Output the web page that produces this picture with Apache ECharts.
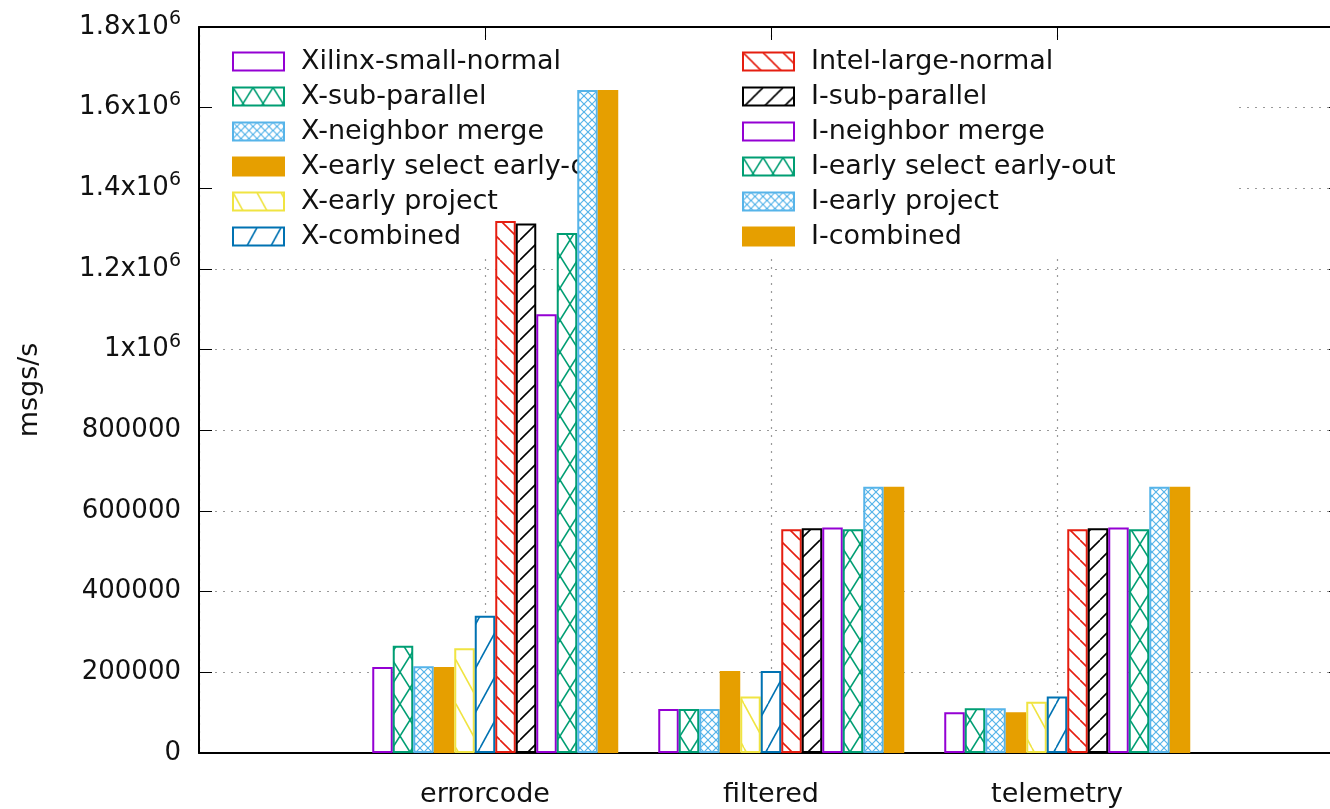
<!DOCTYPE html>
<html>
<head>
<meta charset="utf-8">
<script src="https://cdn.jsdelivr.net/npm/echarts@6/dist/echarts.min.js"></script>
<style>
  html, body { margin: 0; padding: 0; background: #fff; }
  #chart { width: 1330px; height: 809px; }
</style>
</head>
<body>
<div id="chart"></div>
<script>
const categories = ['', 'errorcode', 'filtered', 'telemetry', '']
const yTicks = [0, 200000, 400000, 600000, 800000, 1000000, 1200000, 1400000, 1600000, 1800000]

const seriesNames = [
  'Xilinx-small-normal', 'X-sub-parallel', 'X-neighbor merge', 'X-early select early-out',
  'X-early project', 'X-combined', 'Intel-large-normal', 'I-sub-parallel',
  'I-neighbor merge', 'I-early select early-out', 'I-early project', 'I-combined',
]

// values per series: errorcode, filtered, telemetry
const xilinxSmallNormal = [213000, 109000, 101000]
const xSubParallel = [266000, 109000, 111000]
const xNeighborMerge = [215000, 109000, 111000]
const xEarlySelect = [213000, 203000, 101000]
const xEarlyProject = [260000, 140000, 127000]
const xCombined = [340000, 203000, 140000]
const intelLargeNormal = [1319000, 555000, 555000]
const iSubParallel = [1313000, 557000, 557000]
const iNeighborMerge = [1088000, 559000, 559000]
const iEarlySelect = [1289000, 555000, 555000]
const iEarlyProject = [1644000, 660000, 660000]
const iCombined = [1644000, 660000, 660000]

const seriesValues = [
  xilinxSmallNormal, xSubParallel, xNeighborMerge, xEarlySelect, xEarlyProject, xCombined,
  intelLargeNormal, iSubParallel, iNeighborMerge, iEarlySelect, iEarlyProject, iCombined,
]

const purple = '#9400d3'
const green = '#009e73'
const skyblue = '#56b4e9'
const orange = '#e69f00'
const yellow = '#f0e442'
const blue = '#0072b2'
const red = '#e51e10'
const black = '#000000'

const seriesColors = [purple, green, skyblue, orange, yellow, blue, red, black, purple, green, skyblue, orange]
const seriesPatterns = ['empty', 'cross', 'fine', 'solid', 'back2', 'fwd2', 'back', 'fwd', 'empty', 'cross', 'fine', 'solid']

// hatch fill built on a small canvas tile
const makePattern = (kind, color) => {
  if (kind === 'solid') return color
  const tiles = {
    empty: [4, 4], cross: [20, 32], fine: [8, 8],
    back: [20, 20], fwd: [20, 20], back2: [24, 44], fwd2: [24, 44],
  }
  const [w, h] = tiles[kind]
  const cvs = document.createElement('canvas')
  cvs.width = w
  cvs.height = h
  const ctx = cvs.getContext('2d')
  ctx.fillStyle = '#fff'
  ctx.fillRect(0, 0, w, h)
  ctx.strokeStyle = color
  ctx.lineWidth = kind === 'fine' ? 1.2 : 1.6
  const line = (x0, y0, x1, y1) => {
    for (const dx of [-w, 0, w]) {
      ctx.beginPath()
      ctx.moveTo(x0 + dx, y0)
      ctx.lineTo(x1 + dx, y1)
      ctx.stroke()
    }
  }
  if (kind === 'back' || kind === 'back2' || kind === 'cross' || kind === 'fine') line(0, 0, w, h)
  if (kind === 'fwd' || kind === 'fwd2' || kind === 'cross' || kind === 'fine') line(w, 0, 0, h)
  return { image: cvs, repeat: 'repeat' }
}

const font = 'DejaVu Sans'

const series = [
  // empty slot so the group sits half a bar to the right of the tick
  { type: 'bar', name: '_pad', data: categories.map(() => null), barWidth: 20.5, barGap: '0%' },
]
seriesNames.forEach((name, i) => {
  series.push({
    type: 'bar',
    name,
    z: 3,
    barWidth: 20.5,
    barGap: '0%',
    data: [null, ...seriesValues[i], null],
    itemStyle: {
      color: makePattern(seriesPatterns[i], seriesColors[i]),
      borderColor: seriesColors[i],
      borderWidth: 2,
    },
  })
})

const legendBase = {
  orient: 'vertical',
  top: 48,
  padding: 0,
  z: 2,
  itemWidth: 51,
  itemHeight: 18,
  itemGap: 8,
  icon: 'rect',
  selectedMode: false,
  itemStyle: { borderWidth: 2 },
  textStyle: { fontFamily: font, fontSize: 27, color: '#111', padding: [0, 0, 0, 12] },
}

const chart = echarts.init(document.getElementById('chart'), null, { renderer: 'canvas' })
chart.setOption({
  animation: false,
  backgroundColor: '#fff',
  grid: { left: 199, right: -13, top: 27, bottom: 56, outerBoundsMode: 'none', containLabel: false },
  legend: [
    { ...legendBase, left: 232, data: seriesNames.slice(0, 6) },
    { ...legendBase, left: 742, data: seriesNames.slice(6) },
  ],
  graphic: [
    { type: 'rect', left: 213, top: 40, z: 1, shape: { width: 1022, height: 213 }, style: { fill: '#fff' } },
  ],
  xAxis: [
    {
      type: 'category',
      data: categories,
      boundaryGap: false,
      axisLine: { onZero: false, lineStyle: { color: '#000', width: 2 } },
      axisTick: { show: false },
      axisLabel: { fontFamily: font, fontSize: 27, color: '#111', margin: 28 },
      splitLine: { show: true, lineStyle: { color: '#999', type: [2, 6], width: 1.2 } },
    },
    {
      type: 'category',
      data: categories,
      position: 'top',
      boundaryGap: false,
      axisLine: { onZero: false, lineStyle: { color: '#000', width: 2 } },
      axisTick: { inside: true, length: 14, lineStyle: { color: '#000' } },
      axisLabel: { show: false },
    },
  ],
  yAxis: [
    {
      type: 'value',
      min: 0,
      max: 1800000,
      interval: 200000,
      name: 'msgs/s',
      nameLocation: 'middle',
      nameGap: 156,
      nameTextStyle: { fontFamily: font, fontSize: 27, color: '#111' },
      axisLine: { show: true, onZero: false, lineStyle: { color: '#000', width: 2 } },
      axisTick: { show: true, inside: true, length: 13, lineStyle: { color: '#000' } },
      axisLabel: {
        margin: 18,
        fontFamily: font,
        fontSize: 26,
        color: '#111',
        formatter: (v) => {
          if (!yTicks.includes(v)) return ''
          if (v >= 1000000) return '{b|' + parseFloat((v / 1000000).toFixed(1)) + 'x10}{s|6}'
          return String(v)
        },
        rich: {
          b: { fontFamily: font, fontSize: 26, color: '#111' },
          s: { fontFamily: font, fontSize: 19, color: '#111', padding: [0, 0, 16, 0] },
        },
      },
      splitLine: { show: true, lineStyle: { color: '#999', type: [2, 6], width: 1.2 } },
    },
    {
      type: 'value',
      min: 0,
      max: 1800000,
      interval: 200000,
      position: 'right',
      axisLine: { show: true, onZero: false, lineStyle: { color: '#000', width: 2 } },
      axisTick: { show: true, inside: true, length: 14, lineStyle: { color: '#000' } },
      axisLabel: { show: false },
      splitLine: { show: false },
    },
  ],
  series,
})
</script>
</body>
</html>
